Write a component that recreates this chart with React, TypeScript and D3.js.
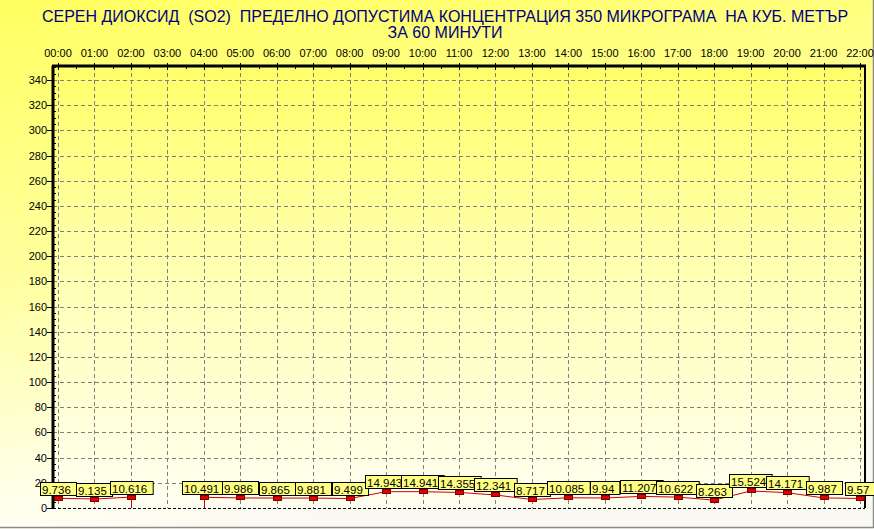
import React from "react";
import * as d3 from "d3";

const titleLines = [
  "СЕРЕН ДИОКСИД  (SO2)  ПРЕДЕЛНО ДОПУСТИМА КОНЦЕНТРАЦИЯ 350 МИКРОГРАМА  НА КУБ. МЕТЪР",
  "ЗА 60 МИНУТИ",
];

const hours = [
  "00:00", "01:00", "02:00", "03:00", "04:00", "05:00", "06:00", "07:00",
  "08:00", "09:00", "10:00", "11:00", "12:00", "13:00", "14:00", "15:00",
  "16:00", "17:00", "18:00", "19:00", "20:00", "21:00", "22:00",
];

const so2Values: (number | null)[] = [
  9.736, 9.135, 10.616, null, 10.491, 9.986, 9.865, 9.881,
  9.499, 14.943, 14.941, 14.355, 12.341, 8.717, 10.085, 9.94,
  11.207, 10.622, 8.263, 15.524, 14.171, 9.987, 9.57,
];

const yTicks = [0, 20, 40, 60, 80, 100, 120, 140, 160, 180, 200, 220, 240, 260, 280, 300, 320, 340];

const W = 874;
const H = 529;
const plotLeft = 53;
const plotRight = 865;
const plotTop = 66;
const plotBottom = 508;

function textW(s: string, fs: number) {
  let w = 0;
  for (const c of s) w += c === "." ? 0.278 * fs : 0.556 * fs;
  return w;
}

export default function App() {
  const x = d3.scalePoint<number>().domain(hours.map((_, i) => i)).range([58, 860]);
  const y = d3.scaleLinear().domain([0, 340]).range([plotBottom, 80]);

  const pts = so2Values.map((v, i) => ({ i, v }));
  const line = d3
    .line<{ i: number; v: number | null }>()
    .defined((d) => d.v !== null)
    .x((d) => x(d.i)!)
    .y((d) => y(d.v as number) + 2.5);

  const minorY = d3.range(0, 351, 5).filter((v) => v % 20 !== 0);
  const fmt = (v: number) => String(v);

  const drops = pts.filter(
    (d, k) =>
      d.v !== null &&
      ((k > 0 && pts[k - 1].v === null) || (k < pts.length - 1 && pts[k + 1].v === null))
  );

  return (
    <svg
      width={W}
      height={H}
      style={{ position: "absolute", left: 0, top: 0, display: "block" }}
      fontFamily="Arial, 'Liberation Sans', sans-serif"
    >
      <defs>
        <linearGradient id="bg" x1="0" y1="0" x2="0.25" y2="1">
          <stop offset="0" stopColor="#ffff60" />
          <stop offset="0.5" stopColor="#ffffa0" />
          <stop offset="0.92" stopColor="#fffff0" />
          <stop offset="1" stopColor="#fafaf2" />
        </linearGradient>
        <linearGradient id="plotbg" x1="0" y1="0" x2="0" y2="1">
          <stop offset="0" stopColor="#ffff68" />
          <stop offset="0.45" stopColor="#ffffb0" />
          <stop offset="1" stopColor="#fffff2" />
        </linearGradient>
      </defs>
      <rect x={0} y={0} width={W} height={H} fill="url(#bg)" />
      <rect
        x={plotLeft}
        y={plotTop}
        width={plotRight - plotLeft}
        height={plotBottom - plotTop}
        fill="url(#plotbg)"
      />
      <line x1={0} y1={527.5} x2={873.5} y2={527.5} stroke="#8a8a8a" strokeWidth={1.5} />
      <line x1={873.5} y1={0} x2={873.5} y2={528} stroke="#8a8a8a" strokeWidth={1.5} />

      {titleLines.map((t, k) => (
        <text
          key={k}
          x={445}
          y={22 + k * 16}
          textAnchor="middle"
          fontSize={16}
          fill="#000080"
          style={{ whiteSpace: "pre" }}
          xmlSpace="preserve"
        >
          {t}
        </text>
      ))}

      {yTicks
        .filter((v) => v > 0)
        .map((v) => (
          <line
            key={"gy" + v}
            x1={plotLeft}
            x2={plotRight}
            y1={Math.round(y(v)) + 0.5}
            y2={Math.round(y(v)) + 0.5}
            stroke="#808080"
            strokeDasharray="4,3"
          />
        ))}
      {hours.map((_, i) => (
        <line
          key={"gx" + i}
          x1={Math.round(x(i)!) + 0.5}
          x2={Math.round(x(i)!) + 0.5}
          y1={plotTop}
          y2={plotBottom}
          stroke="#808080"
          strokeDasharray="4,3"
        />
      ))}

      <line x1={plotLeft} y1={plotBottom + 0.5} x2={plotRight} y2={plotBottom + 0.5} stroke="#000" strokeDasharray="3,2" />
      <line x1={plotLeft - 1} y1={plotTop} x2={plotRight + 1} y2={plotTop} stroke="#000" strokeWidth={3} />
      <line x1={plotRight} y1={plotTop} x2={plotRight} y2={plotBottom} stroke="#000" strokeWidth={2} />
      <line x1={plotLeft} y1={plotTop} x2={plotLeft} y2={plotBottom + 1} stroke="#000" strokeWidth={3} />

      {yTicks.map((v) => (
        <g key={"yt" + v}>
          <line x1={plotLeft - 6} x2={plotLeft} y1={Math.round(y(v)) + 0.5} y2={Math.round(y(v)) + 0.5} stroke="#000" />
          <text x={plotLeft - 6} y={y(v) + 4} textAnchor="end" fontSize={11} fill="#000">
            {v}
          </text>
        </g>
      ))}
      {minorY.map((v) => (
        <line key={"my" + v} x1={plotLeft} x2={plotLeft + 3} y1={Math.round(y(v)) + 0.5} y2={Math.round(y(v)) + 0.5} stroke="#000" />
      ))}

      {hours.map((h, i) => (
        <g key={"xt" + i}>
          <line x1={Math.round(x(i)!) + 0.5} x2={Math.round(x(i)!) + 0.5} y1={plotTop - 3} y2={plotTop + 4} stroke="#000" />
          <text x={x(i)!} y={57} textAnchor="middle" fontSize={11} fill="#000">
            {h}
          </text>
        </g>
      ))}
      {hours.slice(0, -1).map((_, i) => (
        <line
          key={"mx" + i}
          x1={Math.round((x(i)! + x(i + 1)!) / 2) + 0.5}
          x2={Math.round((x(i)! + x(i + 1)!) / 2) + 0.5}
          y1={plotTop}
          y2={plotTop + 3}
          stroke="#000"
        />
      ))}

      <path d={line(pts) || ""} fill="none" stroke="#d00000" strokeWidth={1} />
      {drops.map((d) => (
        <line
          key={"dr" + d.i}
          x1={Math.round(x(d.i)!) + 0.5}
          x2={Math.round(x(d.i)!) + 0.5}
          y1={y(d.v as number) + 2.5}
          y2={plotBottom}
          stroke="#d00000"
        />
      ))}

      {pts
        .filter((d) => d.v !== null)
        .map((d) => {
          const v = d.v as number;
          const cx = x(d.i)!;
          const cy = y(v);
          const s = fmt(v);
          const bw = textW(s, 12) + 6;
          const bh = 13;
          const bx = Math.round(cx - bw / 2);
          const by = Math.round(cy - 1 - bh);
          return (
            <g key={"p" + d.i}>
              <rect x={Math.round(cx - 4) + 0.5} y={Math.round(cy) + 0.5} width={8} height={4} fill="#e00000" stroke="#800000" />
              <rect x={bx + 0.5} y={by + 0.5} width={bw} height={bh} fill="#ffff80" stroke="#000" />
              <text x={bx + 2} y={by + 11.5} fontSize={11.5} fill="#000">
                {s}
              </text>
            </g>
          );
        })}
    </svg>
  );
}
